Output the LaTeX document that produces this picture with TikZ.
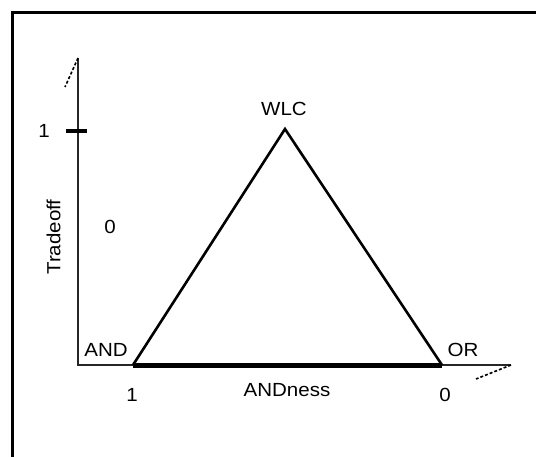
\documentclass[tikz,border=0pt]{standalone}
\usepackage{fontspec}
\setmainfont{Liberation Sans}[FakeStretch=1.08]
\begin{document}
\begin{tikzpicture}[x=1pt,y=-1pt,
  lbl/.style={font=\fontsize{19}{22}\selectfont, inner sep=0pt, anchor=center},
  axisline/.style={line width=2pt, draw=black!85},
  slash/.style={line width=1.6pt, dash pattern=on 3pt off 2pt},
  side/.style={line width=2.6pt, line join=miter},
  base/.style={line width=5pt},
  frameline/.style={line width=3pt}]
\useasboundingbox[fill=white] (0,0) rectangle (536,456);
% frame (left and top edges visible)
\coordinate (fbl) at (12,457);
\coordinate (ftl) at (12,12);
\coordinate (ftr) at (537,12);
\draw[frameline] (fbl) -- (ftl) -- (ftr);
% axes
\coordinate (ytop) at (78,58);
\coordinate (origin) at (78,365);
\coordinate (xend) at (511,365);
\coordinate (yslash) at (65,87);
\coordinate (xslash) at (476,379);
\draw[axisline] (ytop) -- (origin) -- (xend);
\draw[slash] (ytop) -- (yslash);
\draw[slash] (xend) -- (xslash);
% tick at 1
\coordinate (tickl) at (66,131);
\coordinate (tickr) at (87,131);
\draw[line width=3.5pt] (tickl) -- (tickr);
% triangle
\coordinate (A) at (133,365);
\coordinate (W) at (285,129);
\coordinate (O) at (442,365);
\draw[base] (A) -- (O);
\draw[side] (A) -- (W) -- (O);
% labels
\node[lbl] (one) at (44,131) {1};
\node[lbl] (wlc) at (284,109) {WLC};
\node[lbl] (zero) at (110,227) {0};
\node[lbl, rotate=90] (trade) at (53.5,237) {Tradeoff};
\node[lbl] (andl) at (106,350) {AND};
\node[lbl] (orl) at (463,350) {OR};
\node[lbl] (oneb) at (132,395) {1};
\node[lbl] (andness) at (287,390) {ANDness};
\node[lbl] (zerob) at (445,395) {0};
\end{tikzpicture}
\end{document}
